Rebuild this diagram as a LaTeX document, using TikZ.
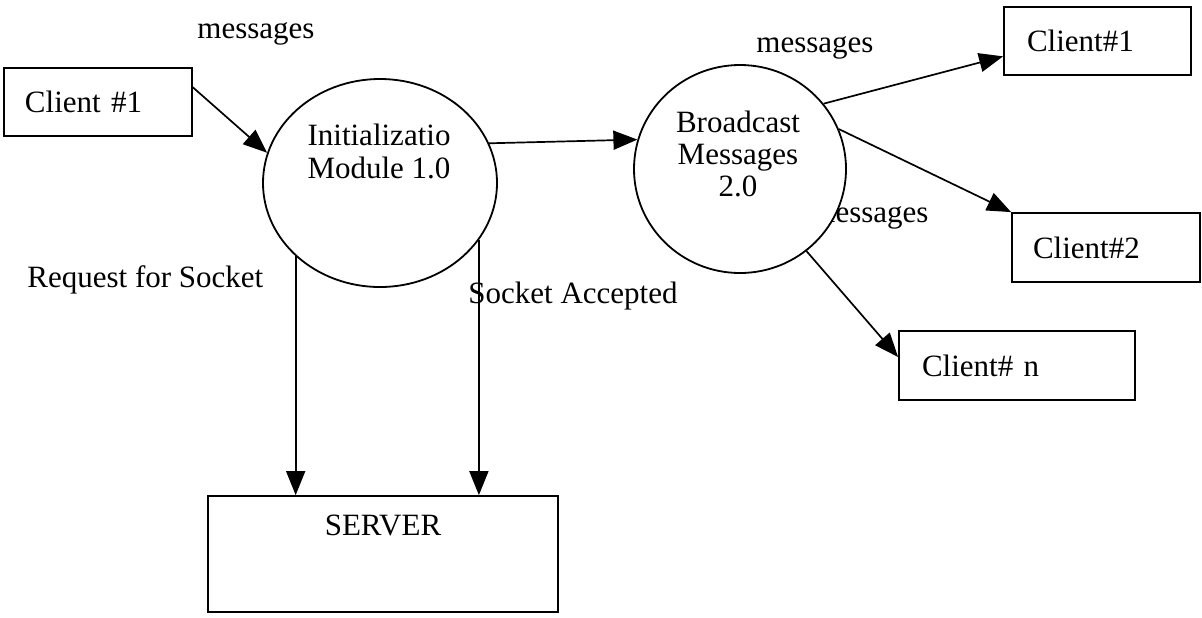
\documentclass[tikz,border=0pt]{standalone}
\usepackage{fontspec}
\setmainfont{Liberation Serif}
\usetikzlibrary{arrows.meta,shapes.geometric,calc}

\begin{document}
\begin{tikzpicture}[x=0.5pt,y=-0.5pt,
  every node/.style={font=\fontsize{15.5pt}{16.5pt}\selectfont},
  box/.style={draw, line width=0.9pt, inner ysep=0pt, minimum height=34pt, align=left},
  proc/.style={draw, ellipse, line width=0.9pt, fill=white, inner sep=0pt},
  flow/.style={line width=0.85pt, -{Triangle[length=12pt,width=9.5pt]}},
  lbl/.style={anchor=base west, inner sep=0pt}]
\useasboundingbox (0,0) rectangle (1202,617);

% flow label partly covered by the broadcast process
\node[lbl] (m3) at (811,222) {messages};

% processes
\node[proc, minimum width=117pt, minimum height=104pt] (c1) at (380,183) {};
\node[proc, minimum width=106pt, minimum height=104pt] (c2) at (740,169) {};
\node[anchor=north, align=center, inner sep=0pt] (c1t) at (379,124) {Initializatio\\Module 1.0};
\node[anchor=north, align=center, inner sep=0pt, font=\fontsize{15.5pt}{16pt}\selectfont] (c2t) at (738,111) {Broadcast\\Messages\\2.0};

% external entities
\node[box, inner xsep=10.5pt, text width=73pt] (lc1) at (98,102) {Client \#1};
\node[box, inner xsep=11.5pt, text width=70.5pt] (rc1) at (1097.5,41) {Client\#1};
\node[box, inner xsep=10.5pt, text width=73pt, minimum height=34.5pt] (rc2) at (1106,247.5) {Client\#2};
\node[box, inner xsep=11.5pt, text width=95pt, minimum height=34.5pt] (rcn) at (1017,365.5) {Client\# n};
\node[draw, line width=0.9pt, minimum width=175pt, minimum height=58pt,
      text height=11pt, text depth=30pt] (srv) at (383,554) {SERVER};

% flow labels
\node[lbl] (m1) at (197,38) {messages};
\node[lbl] (m2) at (756,52) {messages};
\node[lbl] (req) at (27,287) {Request for Socket};
\node[lbl] (acc) at (468,303) {Socket Accepted};

% data flows
\draw[flow] ($(lc1.north east)!0.29!(lc1.south east)$) -- (c1.165);
\draw[flow] (c1.20) -- (c2.164);
\draw[flow] (c1.-139) -- (c1.-139 |- srv.north);
\draw[flow] (c1.-30) -- (c1.-30 |- srv.north);
\draw[flow] (c2.38) -- ($(rc1.south west)!0.28!(rc1.north west)$);
\draw[flow] (c2.22) -- (rc2.north west);
\draw[flow] (c2.-51) -- ($(rcn.north west)!0.38!(rcn.south west)$);
\end{tikzpicture}
\end{document}
